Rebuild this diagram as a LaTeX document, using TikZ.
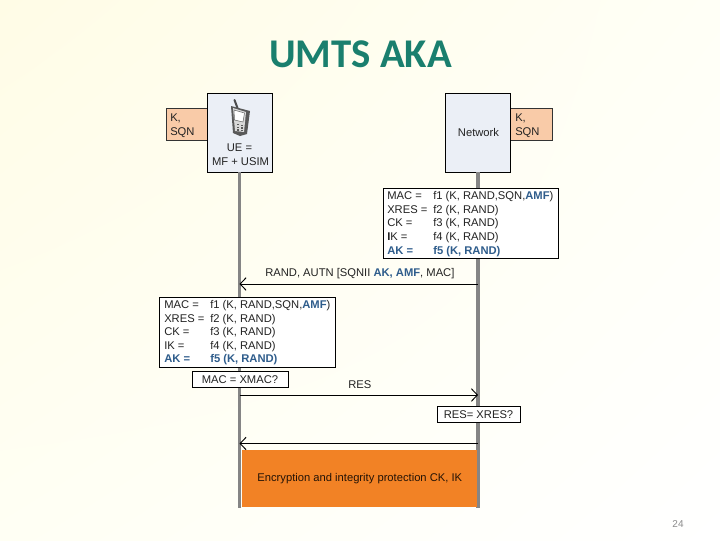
\documentclass[tikz,border=0pt]{standalone}
\usepackage{fontspec}
\setmainfont{Liberation Sans}
\newfontfamily\titlefont{Carlito}
\usetikzlibrary{arrows.meta,shadings}
\definecolor{bgtl}{HTML}{FFFCE6}
\definecolor{bgtr}{HTML}{FFFFF6}
\definecolor{bgbl}{HTML}{FFFFF4}
\definecolor{bgbr}{HTML}{FFFFFF}
\definecolor{peach}{HTML}{F9CBA8}
\definecolor{paleblue}{HTML}{EBEFF6}
\definecolor{lifegray}{HTML}{858585}
\definecolor{amfblue}{HTML}{2F5D8C}
\definecolor{orangebar}{HTML}{F28225}
\definecolor{titlegreen}{HTML}{1A7F6E}
\definecolor{inktext}{HTML}{222222}
\newcommand{\hl}[1]{\textcolor{amfblue}{\textbf{#1}}}
\tikzset{
  x=0.75pt,y=-0.75pt,
  actor/.style={draw=black,line width=0.55pt,fill=paleblue,minimum width=48.75pt,minimum height=59.25pt,inner sep=0pt,align=center,font=\fontsize{8.4}{10.5}\selectfont,text=inktext},
  keybox/.style={draw=black!80,line width=0.5pt,fill=peach,minimum height=24pt,inner sep=0pt,align=left,font=\fontsize{8.4}{10.5}\selectfont,text=inktext},
  panel/.style={draw=black,line width=0.55pt,fill=white,inner sep=0pt},
  txt/.style={anchor=base west,inner sep=0pt,font=\fontsize{8.4}{10}\selectfont,text=inktext},
  lifeline/.style={draw=lifegray,line width=2.7pt},
  msg/.style={draw=black,line width=0.6pt,-{Straight Barb[length=4.5pt,width=9.5pt,line width=0.7pt]}},
}
\begin{document}
\begin{tikzpicture}
\useasboundingbox (0,0) rectangle (720,540);
\shade[upper left=bgtl,upper right=bgtr,lower left=bgbl,lower right=bgbr] (0,0) rectangle (720,540);
\node[anchor=base,inner sep=0pt,font=\titlefont\bfseries\fontsize{30.6}{33}\selectfont,text=titlegreen] (title) at (360.5,67) {UMTS AKA};

% actors
\node[keybox,minimum width=30.75pt] (kl) at (186.5,124) {};
\node[actor] (ue) at (239.5,132.5) {};
\node[keybox,minimum width=31.5pt] (kr) at (531,124) {};
\node[actor] (net) at (478,132.5) {};
\node[txt] (ktl) at (170,121) {K,};
\node[txt] (sql) at (170,135) {SQN};
\node[txt] (ktr) at (515,121) {K,};
\node[txt] (sqr) at (515,135) {SQN};
\node[anchor=base,inner sep=0pt,font=\fontsize{8.4}{10}\selectfont,text=inktext] (uel1) at (239.5,151.5) {UE =};
\node[anchor=base,inner sep=0pt,font=\fontsize{8.4}{10}\selectfont,text=inktext] (uel2) at (240.5,165.5) {MF + USIM};
\node[anchor=base,inner sep=0pt,font=\fontsize{8.4}{10}\selectfont,text=inktext] (netl) at (478.5,136) {Network};

% phone icon
\draw[line width=1.5pt,draw=black!70,line cap=round] (234.5,100) -- (237.5,108);
\fill[black!65] (231,106) -- (250,111) -- (247,134) -- (240,136) -- (233,133) -- cycle;
\fill[black!15] (233,108) -- (246,112) -- (244,132) -- (235,131) -- cycle;
\fill[white,draw=black!60,line width=0.4pt] (234,110) -- (244.5,113) -- (243,122) -- (234.5,120) -- cycle;
\foreach \r in {0,1,2}{\fill[black!65] (237,124+\r*2.6) rectangle +(1.8,1.4); \fill[black!65] (241,124.6+\r*2.6) rectangle +(1.8,1.4);}

% lifelines
\coordinate (ueend) at (239.5,507.5);
\coordinate (netend) at (478,507.5);
\draw[lifeline] (ue.south) -- (ueend);
\draw[lifeline] (net.south) -- (netend);

% key derivations, network side
\node[panel,minimum width=131.25pt,minimum height=52.5pt] (tabr) at (470.5,223) {};
\node[txt] (r1a) at (387,199.5) {MAC =};
\node[txt] (r1b) at (433,199.5) {f1 (K, RAND,SQN,\hl{AMF})};
\node[txt] (r2a) at (387,213) {XRES =};
\node[txt] (r2b) at (433,213) {f2 (K, RAND)};
\node[txt] (r3a) at (387,226.5) {CK =};
\node[txt] (r3b) at (433,226.5) {f3 (K, RAND)};
\node[txt] (r4a) at (387,240) {\textbf{I}K =};
\node[txt] (r4b) at (433,240) {f4 (K, RAND)};
\node[txt] (r5a) at (387,254) {\hl{AK =}};
\node[txt] (r5b) at (433,254) {\hl{f5 (K, RAND)}};

% first message
\coordinate (m1r) at (net.south |- 0,284);
\coordinate (m1l) at (ue.south |- 0,284);
\draw[msg] (m1r) -- (m1l);
\node[txt] (m1t) at (265,276) {RAND, AUTN [SQNII \hl{AK, AMF}, MAC]};

% key derivations, UE side
\node[panel,minimum width=131.75pt,minimum height=52.5pt] (tabl) at (247.25,332) {};
\node[txt] (l1a) at (164,308) {MAC =};
\node[txt] (l1b) at (210,308) {f1 (K, RAND,SQN,\hl{AMF})};
\node[txt] (l2a) at (164,322) {XRES =};
\node[txt] (l2b) at (210,322) {f2 (K, RAND)};
\node[txt] (l3a) at (164,335.5) {CK =};
\node[txt] (l3b) at (210,335.5) {f3 (K, RAND)};
\node[txt] (l4a) at (164,349) {IK =};
\node[txt] (l4b) at (210,349) {f4 (K, RAND)};
\node[txt] (l5a) at (164,362) {\hl{AK =}};
\node[txt] (l5b) at (210,362) {\hl{f5 (K, RAND)}};

% checks and responses
\node[panel,minimum width=72pt,minimum height=12pt] (xmac) at (240,379) {};
\node[anchor=base,inner sep=0pt,font=\fontsize{8.4}{10}\selectfont,text=inktext] (xmact) at (240,383) {MAC = XMAC?};
\coordinate (m2l) at (ue.south |- 0,395);
\coordinate (m2r) at (net.south |- 0,395);
\draw[msg] (m2l) -- (m2r);
\node[txt] (m2t) at (348,388) {RES};
\node[panel,minimum width=62.25pt,minimum height=12pt] (xres) at (478.5,414) {};
\node[anchor=base,inner sep=0pt,font=\fontsize{8.4}{10}\selectfont,text=inktext] (xrest) at (478.5,418) {RES= XRES?};
\coordinate (m3r) at (net.south |- 0,443.5);
\coordinate (m3l) at (ue.south |- 0,443.5);
\draw[msg] (m3r) -- (m3l);

% protected channel
\node[fill=orangebar,minimum width=176pt,minimum height=42.75pt,inner sep=0pt,font=\fontsize{8.4}{10}\selectfont,text=black!85!orangebar] (enc) at (359.8,478.5) {Encryption and integrity protection CK, IK};

\node[anchor=base,inner sep=0pt,font=\fontsize{7.5}{9}\selectfont,text=black!45] (pg) at (678,527) {24};
\end{tikzpicture}
\end{document}
